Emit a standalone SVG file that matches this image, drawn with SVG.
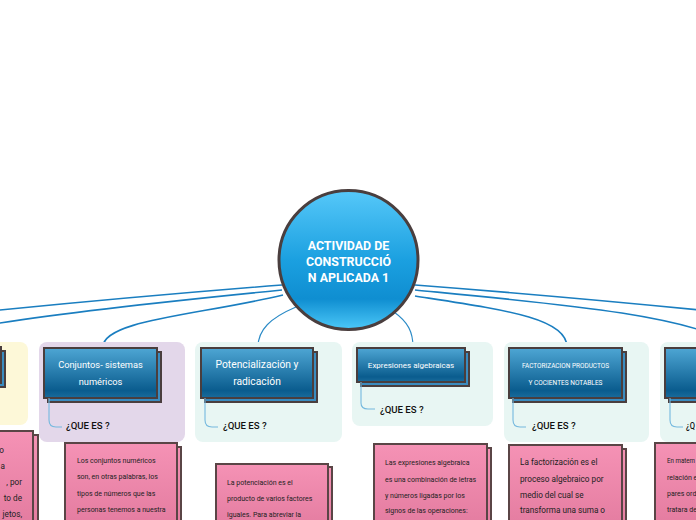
<svg xmlns="http://www.w3.org/2000/svg" width="696" height="520" viewBox="0 0 696 520">
<defs>
<linearGradient id="gCircle" x1="0" y1="0" x2="0" y2="1">
<stop offset="0" stop-color="#56c8f9"/>
<stop offset="0.5" stop-color="#1ba0e0"/>
<stop offset="0.78" stop-color="#0f8ed1"/>
<stop offset="1" stop-color="#4cc8f8"/>
</linearGradient>
<linearGradient id="gBox" x1="0" y1="0" x2="0" y2="1">
<stop offset="0" stop-color="#4ea6d4"/>
<stop offset="0.85" stop-color="#0a5c8e"/>
<stop offset="1" stop-color="#1a6c9c"/>
</linearGradient>
<linearGradient id="gCard" x1="0" y1="0" x2="0" y2="1">
<stop offset="0" stop-color="#f592b5"/>
<stop offset="1" stop-color="#e27a9e"/>
</linearGradient>
</defs>
<style>
.conn{fill:none;stroke:#1a7ec0;stroke-width:1.6}
.thin{fill:none;stroke:#2a8ac6;stroke-width:1.1}
.sub{fill:none;stroke:#74b8de;stroke-width:1.1}
.panelY{fill:#fdf8d8}
.panelL{fill:#e3d7ea}
.panelM{fill:#e8f6f3}
.box{fill:url(#gBox);stroke:#4a3e3e;stroke-width:2}
.boxs{fill:#3a8cc0;stroke:#4a3e3e;stroke-width:2}
.card{fill:url(#gCard);stroke:#5a4546;stroke-width:2}
.bt{font-family:Roboto,"Liberation Sans",sans-serif;fill:#fff;text-anchor:middle}
.q{font-family:Roboto,"Liberation Sans",sans-serif;font-size:9.6px;font-weight:500;fill:#111}
.ct{font-family:Roboto,"Liberation Sans",sans-serif;font-size:7px;fill:#222}
.ct2{font-family:Roboto,"Liberation Sans",sans-serif;font-size:8.2px;fill:#222}
</style>

<g id="connectors">
<path class="conn" d="M282,285 C180,293 80,302 -20,312"/>
<path class="conn" d="M282,290 C150,303 30,316 -40,330"/>
<path class="conn" d="M283,295 C200,315 103,320 103,347"/>
<path class="thin" d="M296,307 C270,318 258,330 258,347"/>
<path class="thin" d="M394,312 C408,322 413,332 413,347"/>
<path class="conn" d="M415,296 C505,310 567,318 567,347"/>
<path class="conn" d="M415,285 C520,293 620,302 720,312"/>
<path class="conn" d="M415,290 C560,304 690,315 740,347"/>
</g>

<g id="node-left">
<rect class="panelY" x="-120" y="342" width="148" height="83" rx="8"/>
<rect class="boxs" x="-106" y="351" width="111" height="36"/>
<rect class="box" x="-110" y="347" width="111" height="36"/>
<rect class="card" x="-75" y="435" width="113" height="100"/>
<rect class="card" x="-80" y="431" width="113" height="100"/>
<text class="ct2" text-anchor="end" x="4" y="453">o</text>
<text class="ct2" text-anchor="end" x="5" y="469">a</text>
<text class="ct2" text-anchor="end" x="22" y="485">, por</text>
<text class="ct2" text-anchor="end" x="22" y="501">to de</text>
<text class="ct2" text-anchor="end" x="22" y="517">jetos,</text>
</g>

<g id="node-conjuntos">
<rect class="panelL" x="39" y="342" width="146" height="100" rx="8"/>
<rect class="boxs" x="48" y="352" width="113" height="50"/>
<rect class="box" x="44" y="348" width="113" height="50"/>
<text class="bt" font-size="9.3" x="100.5" y="368">Conjuntos- sistemas</text>
<text class="bt" font-size="9.3" x="100.5" y="385">numéricos</text>
<path class="sub" d="M49,398 V420 Q49,427 56,427 H62"/>
<text class="q" x="66" y="429">¿QUE ES ?</text>
<rect class="card" x="69" y="447" width="112" height="90"/>
<rect class="card" x="65" y="443" width="112" height="90"/>
<text class="ct" x="77" y="463">Los conjuntos numéricos</text>
<text class="ct" x="77" y="479">son, en otras palabras, los</text>
<text class="ct" x="77" y="496">tipos de números que las</text>
<text class="ct" x="77" y="512">personas tenemos a nuestra</text>
</g>

<g id="node-potencializacion">
<rect class="panelM" x="195" y="342" width="147" height="100" rx="8"/>
<rect class="boxs" x="205" y="352" width="112" height="50"/>
<rect class="box" x="201" y="348" width="112" height="50"/>
<text class="bt" font-size="10.3" x="257" y="368">Potencialización y</text>
<text class="bt" font-size="10.3" x="257" y="385">radicación</text>
<path class="sub" d="M205,398 V420 Q205,427 212,427 H218"/>
<text class="q" x="223" y="429">¿QUE ES ?</text>
<rect class="card" x="220" y="467" width="112" height="70"/>
<rect class="card" x="216" y="464" width="112" height="70"/>
<text class="ct" x="227" y="485">La potenciación es el</text>
<text class="ct" x="227" y="501">producto de varios factores</text>
<text class="ct" x="227" y="517">iguales. Para abreviar la</text>
</g>

<g id="node-expresiones">
<rect class="panelM" x="352" y="342" width="141" height="84" rx="8"/>
<rect class="boxs" x="361" y="352" width="108" height="34"/>
<rect class="box" x="357" y="348" width="108" height="34"/>
<text class="bt" font-size="8" x="411" y="368">Expresiones algebraicas</text>
<path class="sub" d="M361,382 V403 Q361,409 368,409 H375"/>
<text class="q" x="380" y="413">¿QUE ES ?</text>
<rect class="card" x="378" y="448" width="113" height="90"/>
<rect class="card" x="374" y="444" width="113" height="90"/>
<text class="ct" x="385" y="465">Las expresiones algebraica</text>
<text class="ct" x="385" y="482">es una combinación de letras</text>
<text class="ct" x="385" y="498">y números ligadas por los</text>
<text class="ct" x="385" y="513">signos de las operaciones:</text>
</g>

<g id="node-factorizacion">
<rect class="panelM" x="504" y="342" width="145" height="100" rx="8"/>
<rect class="boxs" x="513" y="352" width="113" height="50"/>
<rect class="box" x="509" y="348" width="113" height="50"/>
<text class="bt" font-size="7" x="565.5" y="368" textLength="87" lengthAdjust="spacingAndGlyphs">FACTORIZACION PRODUCTOS</text>
<text class="bt" font-size="7" x="565.5" y="385" textLength="74" lengthAdjust="spacingAndGlyphs">Y COCIENTES NOTABLES</text>
<path class="sub" d="M513,398 V420 Q513,427 520,427 H526"/>
<text class="q" x="532" y="429">¿QUE ES ?</text>
<rect class="card" x="513" y="449" width="113" height="90"/>
<rect class="card" x="509" y="445" width="113" height="90"/>
<text class="ct2" x="520" y="465">La factorización es el</text>
<text class="ct2" x="520" y="482">proceso algebraico por</text>
<text class="ct2" x="520" y="498">medio del cual se</text>
<text class="ct2" x="520" y="513">transforma una suma o</text>
</g>

<g id="node-right">
<rect class="panelM" x="660" y="342" width="146" height="100" rx="8"/>
<rect class="boxs" x="669" y="352" width="113" height="50"/>
<rect class="box" x="665" y="348" width="113" height="50"/>
<path class="sub" d="M670,398 V420 Q670,427 677,427 H683"/>
<text class="q" x="686" y="429" textLength="9" lengthAdjust="spacingAndGlyphs">¿Q</text>
<rect class="card" x="659" y="447" width="113" height="90"/>
<rect class="card" x="655" y="443" width="113" height="90"/>
<text class="ct" x="667" y="463" textLength="28" lengthAdjust="spacingAndGlyphs">En matem</text>
<text class="ct" x="667" y="480">relación e</text>
<text class="ct" x="667" y="496">pares ord</text>
<text class="ct" x="667" y="512">tratara de</text>
</g>

<g id="node-central">
<circle cx="348.5" cy="260" r="69.5" fill="url(#gCircle)" stroke="#4a3e3e" stroke-width="3"/>
<text class="bt" font-size="12.4" font-weight="bold" x="348.5" y="250">ACTIVIDAD DE</text>
<text class="bt" font-size="12.4" font-weight="bold" x="348.5" y="266">CONSTRUCCIÓ</text>
<text class="bt" font-size="12.4" font-weight="bold" x="348.5" y="282">N APLICADA 1</text>
</g>
</svg>
